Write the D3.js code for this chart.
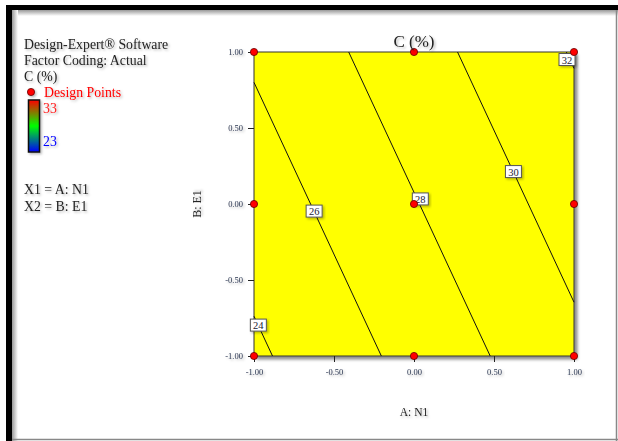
<!DOCTYPE html>
<html>
<head>
<meta charset="utf-8">
<script src="https://cdn.jsdelivr.net/npm/d3@7"></script>
<style>
  html, body { margin: 0; padding: 0; background: #fff; }
  svg { display: block; }
  text { font-family: "Liberation Serif", "DejaVu Serif", serif; }
</style>
</head>
<body>
<svg id="chart" width="618" height="441"></svg>
<script>
// Design points (coded factor levels)
const pointsA = [-1, 0, 1, -1, 0, 1, -1, 0, 1];
const pointsB = [1, 1, 1, 0, 0, 0, -1, -1, -1];

// Fitted linear response C = b0 + bA*A + bB*B
const modelCoef = [27.9, 2.94, 1.3];

// Contour levels and where their labels sit (B value along each line)
const contourLevels = [24, 26, 28, 30, 32];
const labelB = [-0.80, -0.05, 0.03, 0.21, 0.95];

const tickValues = [-1, -0.5, 0, 0.5, 1];
const legendLines = ["Design-Expert® Software", "Factor Coding: Actual", "C (%)"];
const factorLines = ["X1 = A: N1", "X2 = B: E1"];
const colorRange = [23, 33];

const svg = d3.select("#chart");

const defs = svg.append("defs");
const soft = defs.append("filter").attr("id", "soft")
  .attr("x", "-20%").attr("y", "-20%").attr("width", "140%").attr("height", "160%");
soft.append("feDropShadow").attr("dx", 1.5).attr("dy", 1.5).attr("stdDeviation", 1.2)
  .attr("flood-color", "#000").attr("flood-opacity", 0.28);

const boxShadow = defs.append("filter").attr("id", "boxShadow")
  .attr("x", "-5%").attr("y", "-5%").attr("width", "112%").attr("height", "112%");
boxShadow.append("feDropShadow").attr("dx", 3).attr("dy", 3).attr("stdDeviation", 1.5)
  .attr("flood-color", "#000").attr("flood-opacity", 0.45);

// Outer frame
const frameShade = defs.append("linearGradient").attr("id", "frameShadeTop")
  .attr("x1", 0).attr("y1", 0).attr("x2", 0).attr("y2", 1);
frameShade.append("stop").attr("offset", "0%").attr("stop-color", "#999");
frameShade.append("stop").attr("offset", "100%").attr("stop-color", "#fff");
const frameShadeL = defs.append("linearGradient").attr("id", "frameShadeLeft")
  .attr("x1", 0).attr("y1", 0).attr("x2", 1).attr("y2", 0);
frameShadeL.append("stop").attr("offset", "0%").attr("stop-color", "#999");
frameShadeL.append("stop").attr("offset", "100%").attr("stop-color", "#fff");

svg.append("rect").attr("x", 12).attr("y", 10).attr("width", 606).attr("height", 6)
  .attr("fill", "url(#frameShadeTop)");
svg.append("rect").attr("x", 12).attr("y", 10).attr("width", 6).attr("height", 431)
  .attr("fill", "url(#frameShadeLeft)");
svg.append("rect").attr("x", 6).attr("y", 5).attr("width", 612).attr("height", 5).attr("fill", "#000");
svg.append("rect").attr("x", 6).attr("y", 5).attr("width", 6).attr("height", 436).attr("fill", "#000");
svg.append("line").attr("x1", 616.5).attr("x2", 616.5).attr("y1", 10).attr("y2", 441)
  .attr("stroke", "#888").attr("stroke-width", 1.5);
svg.append("line").attr("x1", 12).attr("x2", 618).attr("y1", 439.5).attr("y2", 439.5)
  .attr("stroke", "#888").attr("stroke-width", 1.5);

// Scales
const x = d3.scaleLinear().domain([-1, 1]).range([254, 574]);
const y = d3.scaleLinear().domain([-1, 1]).range([356, 52]);

// Plot area
svg.append("rect")
  .attr("x", x(-1)).attr("y", y(1))
  .attr("width", x(1) - x(-1)).attr("height", y(-1) - y(1))
  .attr("fill", "#ffff00").attr("stroke", "#333").attr("stroke-width", 1)
  .attr("filter", "url(#boxShadow)");

// Contour lines: clip each level line A = (L - b0 - bB*B)/bA to the square
const [b0, bA, bB] = modelCoef;
const aAt = (L, B) => (L - b0 - bB * B) / bA;
const bAt = (L, A) => (L - b0 - bA * A) / bB;

function segment(L) {
  const pts = [];
  [-1, 1].forEach(B => { const A = aAt(L, B); if (A >= -1 && A <= 1) pts.push([A, B]); });
  [-1, 1].forEach(A => { const B = bAt(L, A); if (B > -1 && B < 1) pts.push([A, B]); });
  return pts.slice(0, 2);
}

const contourG = svg.append("g");
contourLevels.forEach(L => {
  const s = segment(L);
  if (s.length === 2) {
    contourG.append("line")
      .attr("x1", x(s[0][0])).attr("y1", y(s[0][1]))
      .attr("x2", x(s[1][0])).attr("y2", y(s[1][1]))
      .attr("stroke", "#111").attr("stroke-width", 1);
  }
});

// Axes (hyphen minus, two decimals)
const fmt = d => d3.format(".2f")(d).replace("\u2212", "-");
const axisStyle = g => {
  g.selectAll("path").remove();
  g.selectAll("line").attr("stroke", "#222");
  g.selectAll("text").attr("font-size", 8.5).attr("fill", "#2a3550")
    .attr("font-family", "Liberation Serif, serif").attr("filter", "url(#soft)");
};
svg.append("g").attr("transform", `translate(${x(-1)},0)`)
  .call(d3.axisLeft(y).tickValues(tickValues).tickFormat(fmt).tickSize(6).tickPadding(5))
  .call(axisStyle);
svg.append("g").attr("transform", `translate(0,${y(-1)})`)
  .call(d3.axisBottom(x).tickValues(tickValues).tickFormat(fmt).tickSize(6).tickPadding(7))
  .call(axisStyle);

// Contour labels
contourLevels.forEach((L, i) => {
  const B = labelB[i];
  let A = aAt(L, B);
  let cx = x(A), cy = y(B);
  if (L === 32) { cx = 567; cy = 60; }
  if (L === 28) { cx += 3; }
  const g = svg.append("g").attr("transform", `translate(${cx},${cy})`);
  g.append("rect").attr("x", -8).attr("y", -6.5).attr("width", 16).attr("height", 12)
    .attr("fill", "#fff").attr("stroke", "#555").attr("stroke-width", 1)
    .attr("filter", "url(#soft)");
  g.append("text").attr("text-anchor", "middle").attr("y", 3.5)
    .attr("font-size", 10.5).attr("fill", "#223").text(L);
});

// Design points
svg.append("g").selectAll("circle")
  .data(pointsA.map((a, i) => [a, pointsB[i]]))
  .join("circle")
  .attr("cx", d => x(d[0])).attr("cy", d => y(d[1])).attr("r", 3.6)
  .attr("fill", "#ff0000").attr("stroke", "#600").attr("stroke-width", 0.8);

// Titles
svg.append("text").attr("x", x(0)).attr("y", 47).attr("text-anchor", "middle")
  .attr("font-size", 17).attr("fill", "#222").attr("filter", "url(#soft)").text("C (%)");
svg.append("text").attr("x", x(0)).attr("y", 416).attr("text-anchor", "middle")
  .attr("font-size", 11.5).attr("fill", "#222").attr("filter", "url(#soft)").text("A: N1");
svg.append("text").attr("transform", `translate(201,${y(0)}) rotate(-90)`)
  .attr("text-anchor", "middle").attr("font-size", 12).attr("fill", "#222")
  .attr("filter", "url(#soft)").text("B: E1");

// Side legend
const leg = svg.append("g").attr("filter", "url(#soft)");
legendLines.forEach((t, i) => {
  leg.append("text").attr("x", 24).attr("y", 49 + i * 16).attr("font-size", 13.8)
    .attr("fill", "#222").text(t);
});
leg.append("circle").attr("cx", 31).attr("cy", 92).attr("r", 3.6)
  .attr("fill", "#ff0000").attr("stroke", "#600").attr("stroke-width", 0.8);
leg.append("text").attr("x", 44).attr("y", 97).attr("font-size", 13.8)
  .attr("fill", "#ff0000").text("Design Points");

const grad = defs.append("linearGradient").attr("id", "ramp")
  .attr("x1", 0).attr("y1", 0).attr("x2", 0).attr("y2", 1);
[["0%", "#ff0000"], ["50%", "#00ff00"], ["100%", "#0000ff"]].forEach(([o, c]) =>
  grad.append("stop").attr("offset", o).attr("stop-color", c));
leg.append("rect").attr("x", 28.5).attr("y", 100).attr("width", 11).attr("height", 52)
  .attr("fill", "url(#ramp)").attr("stroke", "#111").attr("stroke-width", 1.5);
leg.append("text").attr("x", 43).attr("y", 113).attr("font-size", 13.8)
  .attr("fill", "#ff2020").text(colorRange[1]);
leg.append("text").attr("x", 43).attr("y", 146).attr("font-size", 13.8)
  .attr("fill", "#0000ff").text(colorRange[0]);

factorLines.forEach((t, i) => {
  leg.append("text").attr("x", 24).attr("y", 194 + i * 17).attr("font-size", 13.8)
    .attr("fill", "#222").text(t);
});
</script>
</body>
</html>
